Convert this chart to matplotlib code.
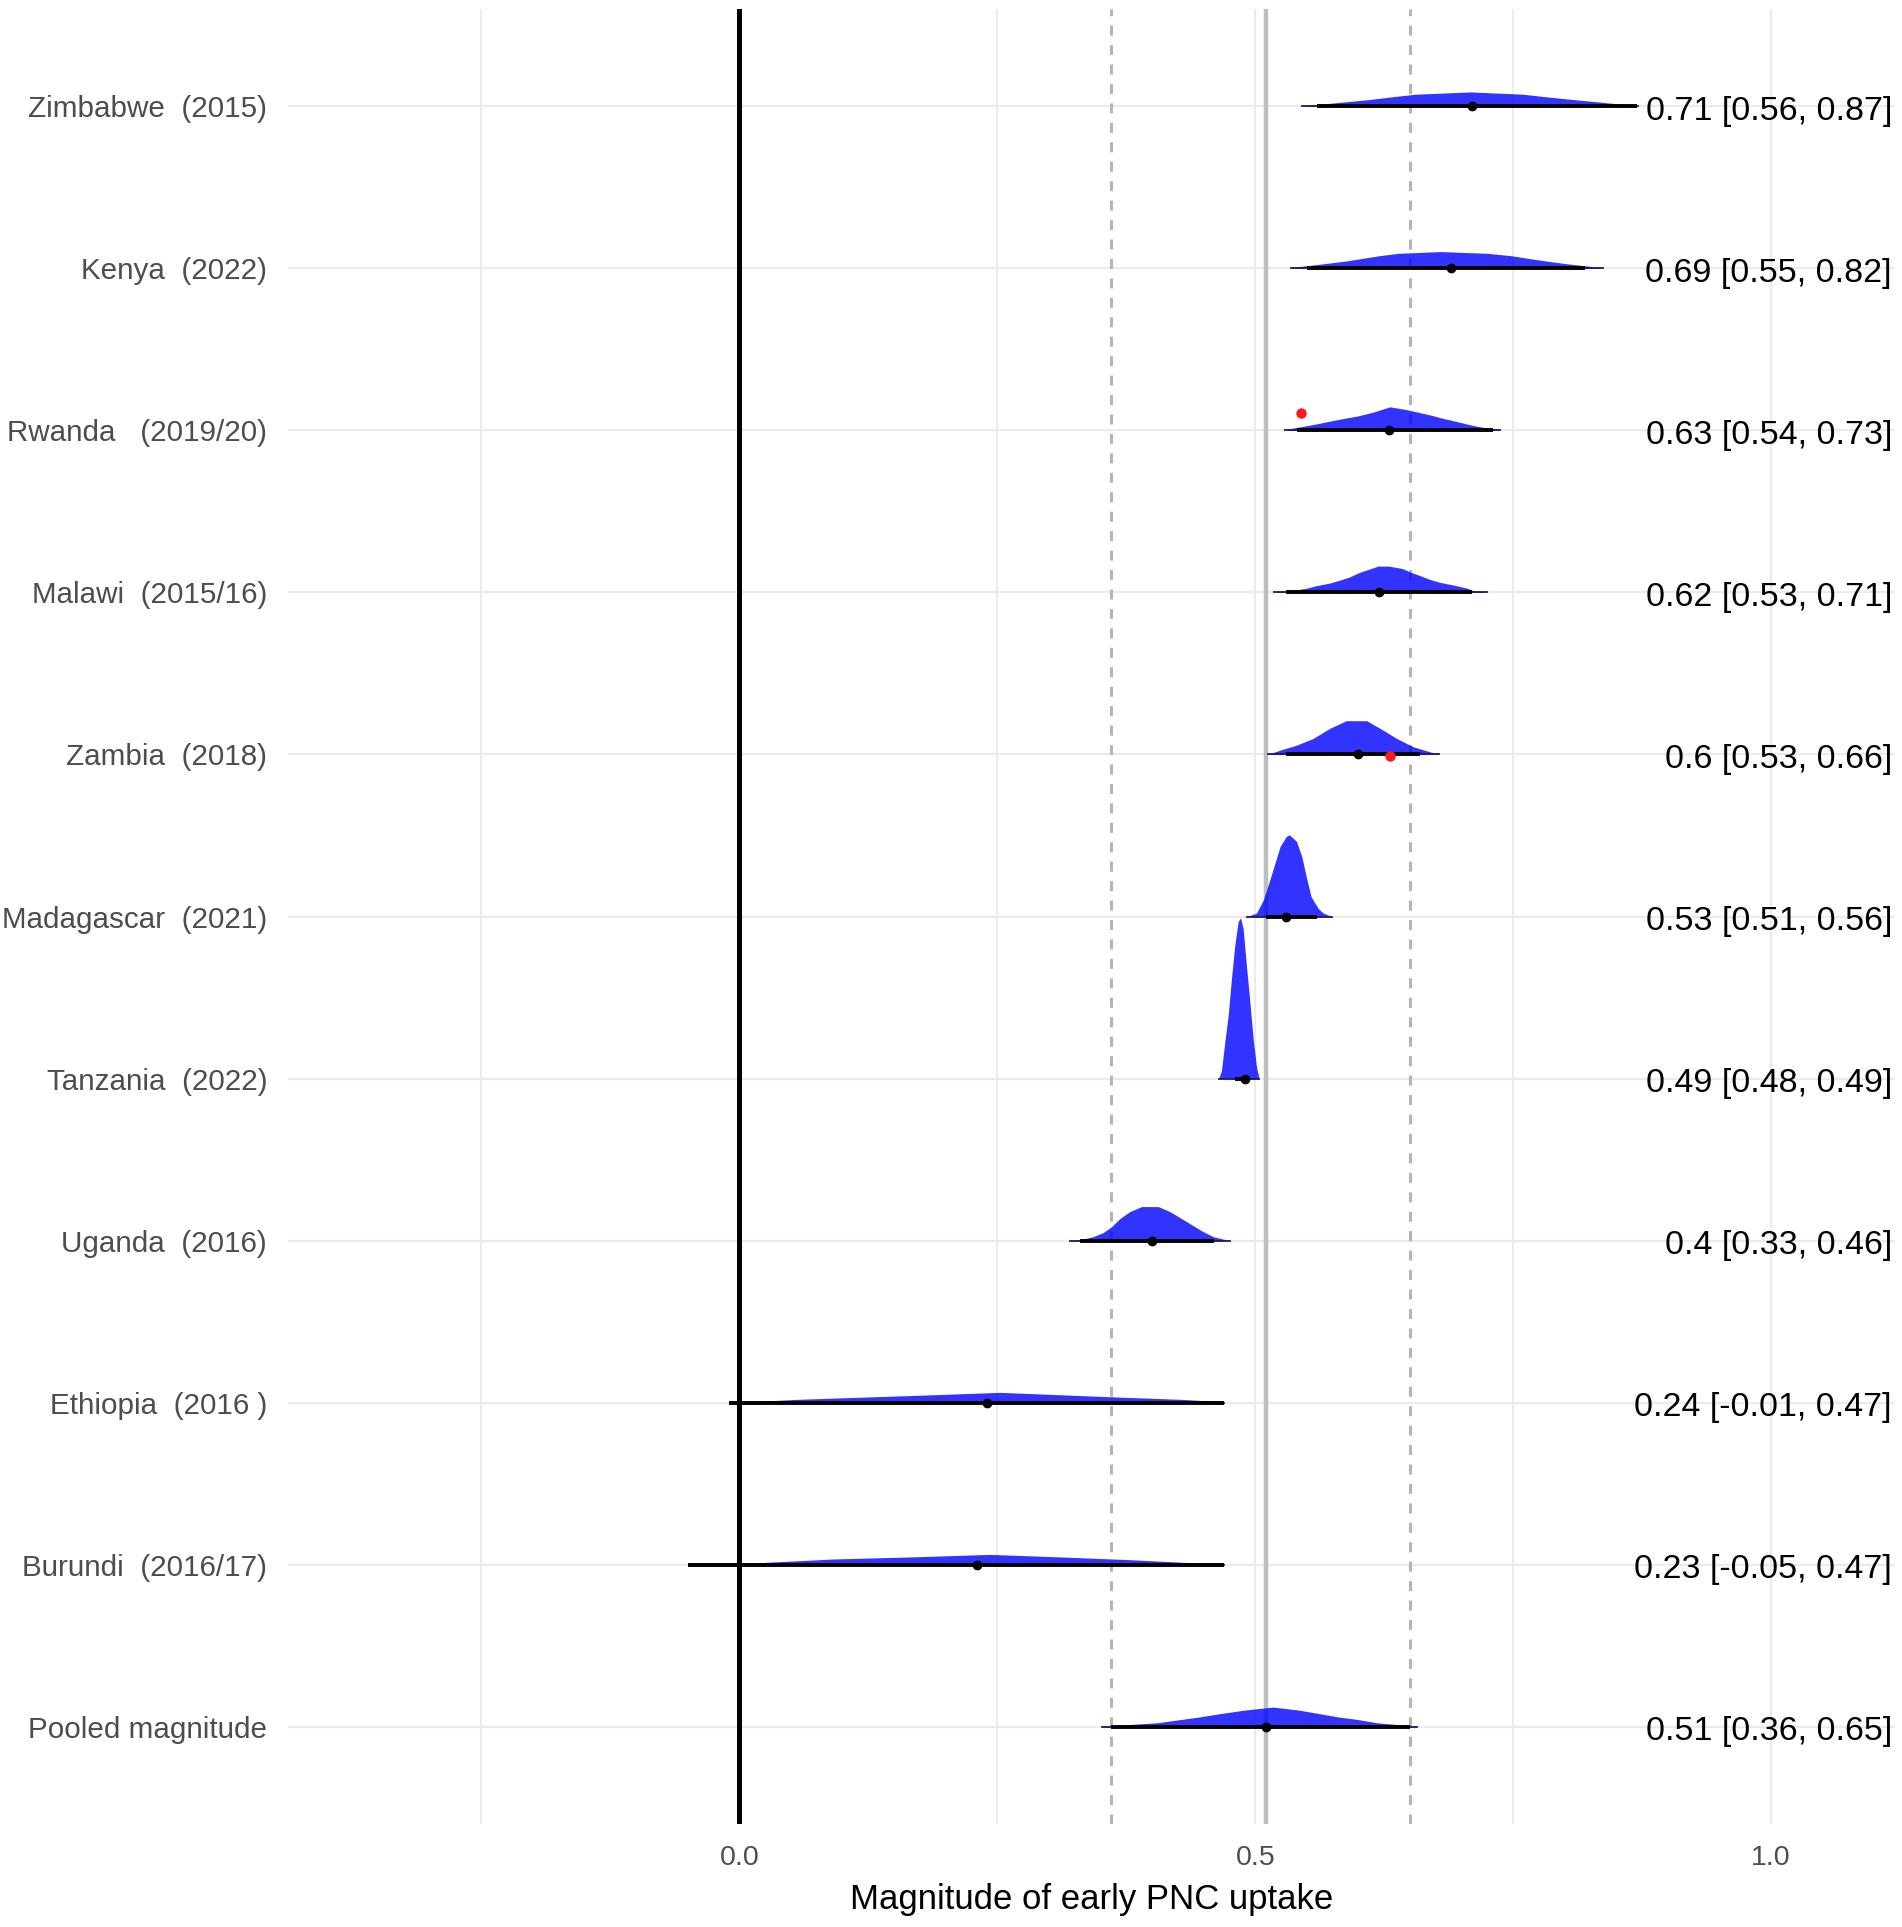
import numpy as np
import matplotlib
matplotlib.use("Agg")
import matplotlib.pyplot as plt

# studies, top to bottom
labels = ['Zimbabwe  (2015)', 'Kenya  (2022)', 'Rwanda   (2019/20)', 'Malawi  (2015/16)',
          'Zambia  (2018)', 'Madagascar  (2021)', 'Tanzania  (2022)', 'Uganda  (2016)',
          'Ethiopia  (2016 )', 'Burundi  (2016/17)', 'Pooled magnitude']
est = [0.71, 0.69, 0.63, 0.62, 0.6, 0.53, 0.49, 0.4, 0.24, 0.23, 0.51]
lo  = [0.56, 0.55, 0.54, 0.53, 0.53, 0.51, 0.48, 0.33, -0.01, -0.05, 0.36]
hi  = [0.87, 0.82, 0.73, 0.71, 0.66, 0.56, 0.49, 0.46, 0.47, 0.47, 0.65]

# posterior density outlines (height in px of row spacing = 162)
zim_x = [0.545, 0.5595, 0.5865, 0.6105, 0.6315, 0.655, 0.709, 0.7595, 0.783, 0.808, 0.8325, 0.858, 0.871]
zim_h = [0, 1.7, 4.3, 6.7, 9.3, 12, 14.3, 12, 9.3, 6.7, 4.3, 1.7, 0]
ken_x = [0.535, 0.5425, 0.5645, 0.588, 0.6045, 0.621, 0.639, 0.6795, 0.7245, 0.747, 0.764, 0.7815, 0.8035, 0.8265, 0.837]
ken_h = [0, 1.7, 4.3, 7.3, 10, 12.7, 15, 16.7, 15, 12.7, 10, 7.3, 4.3, 1.7, 0]
rwa_x = [0.529, 0.5335, 0.5465, 0.5605, 0.5715, 0.5845, 0.599, 0.6135, 0.6305, 0.6465, 0.6595,
         0.671, 0.6805, 0.6915, 0.7035, 0.715, 0.729, 0.737]
rwa_h = [0, 1.7, 4, 6.7, 9, 11.7, 14.3, 18, 23.5, 20.7, 17.7, 15, 12.3, 9.7, 6.7, 4, 1.7, 0]
mal_x = [0.518, 0.534, 0.549, 0.559, 0.572, 0.582, 0.591, 0.601, 0.619, 0.629, 0.642, 0.651,
         0.659, 0.669, 0.679, 0.695, 0.706, 0.711, 0.725]
mal_h = [0, 1.7, 4, 6.7, 9.3, 12.3, 15.3, 20, 26.3, 26.3, 24, 20, 17, 13, 10, 6.7, 4, 1.7, 0]
zam_x = [0.512, 0.524, 0.540, 0.556, 0.572, 0.588, 0.608, 0.621, 0.637, 0.653, 0.669, 0.678]
zam_h = [0, 4.3, 9.3, 16, 26, 33.7, 33.7, 26, 16, 7.7, 2.7, 0]
mad_x = [0.492, 0.501, 0.508, 0.516, 0.524, 0.530, 0.533, 0.540, 0.545, 0.550, 0.554, 0.561, 0.566, 0.574]
mad_h = [0, 3.3, 17, 43, 70, 80, 81.7, 75, 60, 37, 20, 8, 3.3, 0]
tan_x = [0.4646, 0.4672, 0.4705, 0.4737, 0.4769, 0.4801, 0.4834, 0.4857, 0.4882, 0.4914,
         0.4947, 0.4979, 0.5011, 0.5037]
tan_h = [0, 8, 37, 63, 100, 133, 157, 160.7, 150, 113, 77, 40, 12, 0]
uga_x = [0.3203, 0.3332, 0.3429, 0.3525, 0.3607, 0.3687, 0.3784, 0.3897, 0.4059, 0.4172,
         0.4285, 0.4397, 0.4494, 0.4591, 0.4688, 0.4753]
uga_h = [0, 1.5, 4, 8, 14, 22, 29, 34, 34, 29, 22, 15, 9, 4, 1.5, 0]
eth_x = [0.0, 0.022, 0.0555, 0.113, 0.1715, 0.2525, 0.325, 0.3745, 0.4285, 0.459, 0.47]
eth_h = [0, 1.5, 3.3, 5.3, 7.3, 10.3, 7.3, 5.3, 3.3, 1.5, 0]
bur_x = [-0.045, -0.025, 0.0185, 0.0905, 0.1635, 0.243, 0.313, 0.379, 0.438, 0.47]
bur_h = [0, 1, 2, 5.7, 7.7, 10.3, 7.7, 5, 2, 0]
poo_x = [0.351, 0.37, 0.405, 0.428, 0.445, 0.467, 0.49, 0.517, 0.542, 0.561, 0.581, 0.599, 0.618, 0.643, 0.657]
poo_h = [0, 1.7, 4, 7.3, 9.7, 13.3, 16.7, 19.7, 16.7, 13.3, 9.7, 7.3, 4, 1.7, 0]

dens_x = [zim_x, ken_x, rwa_x, mal_x, zam_x, mad_x, tan_x, uga_x, eth_x, bur_x, poo_x]
dens_h = [zim_h, ken_h, rwa_h, mal_h, zam_h, mad_h, tan_h, uga_h, eth_h, bur_h, poo_h]

# red points (study, x, offset from row)
red_study = ['Rwanda   (2019/20)', 'Zambia  (2018)']
red_x = [0.544, 0.631]
red_dy = [0.109, -0.01]

ROW_PX = 162.0

if __name__ == '__main__':
    plt.rcParams['font.family'] = ['Liberation Sans', 'DejaVu Sans']
    plt.rcParams['lines.scale_dashes'] = False

    W, H = 1902, 1927
    fig = plt.figure(figsize=(W / 100, H / 100), dpi=100)
    ax = fig.add_axes([288 / W, 1 - 1824 / H, (1895 - 288) / W, (1824 - 9) / H])

    n = len(labels)
    ypos = np.arange(n, 0, -1)

    ax.set_xlim(-0.4375, 1.12)
    ax.set_ylim(0.4, n + 0.6)

    # grid
    for gx in [-0.25, 0.25, 0.75]:
        ax.axvline(gx, color='#EBEBEB', lw=1.3, zorder=0)
    for gx in [0.0, 0.5, 1.0]:
        ax.axvline(gx, color='#EBEBEB', lw=1.6, zorder=0)
    for y in ypos:
        ax.axhline(y, color='#EBEBEB', lw=1.6, zorder=0)

    # reference lines: zero, pooled estimate and its interval
    ax.axvline(0, color='black', lw=3.6, zorder=1)
    ax.axvline(est[-1], color='#BEBEBE', lw=3.2, zorder=1)
    for v in [lo[-1], hi[-1]]:
        ax.axvline(v, color='#B5B5B5', lw=2.2, dashes=(7.2, 6.8), zorder=1)

    for i in range(n):
        y = ypos[i]
        xs = np.array(dens_x[i])
        hs = np.array(dens_h[i]) / ROW_PX
        ax.fill_between(xs, y, y + hs, color='blue', alpha=0.8, lw=0, zorder=2)
        ax.plot([xs[0], xs[-1]], [y, y], color='#1A1A70', lw=1.3, zorder=2.5)
        ax.plot([lo[i], hi[i]], [y, y], color='black', lw=2.8, solid_capstyle='butt', zorder=3)
        ax.plot(est[i], y, 'o', color='black', ms=6, zorder=4)
        txt = '{:g} [{:g}, {:g}]'.format(est[i], lo[i], hi[i])
        ax.text(1.117, y - 0.03, txt, ha='right', va='center', fontsize=24.5, color='black', zorder=5)

    for s, rx, dy in zip(red_study, red_x, red_dy):
        y = ypos[labels.index(s)]
        ax.plot(rx, y + dy, 'o', color='#FF1A1A', ms=6.5, zorder=4)

    ax.set_yticks(ypos)
    ax.set_yticklabels(labels, fontsize=21.3, color='#4D4D4D')
    ax.set_xticks([0.0, 0.5, 1.0])
    ax.set_xticklabels(['0.0', '0.5', '1.0'], fontsize=20.5, color='#4D4D4D')
    ax.tick_params(length=0)
    ax.tick_params(axis='y', pad=15)
    ax.tick_params(axis='x', pad=15)
    ax.set_xlabel('Magnitude of early PNC uptake', fontsize=25, labelpad=9)
    for sp in ax.spines.values():
        sp.set_visible(False)

    fig.savefig('out.png', dpi=100, facecolor='white')
